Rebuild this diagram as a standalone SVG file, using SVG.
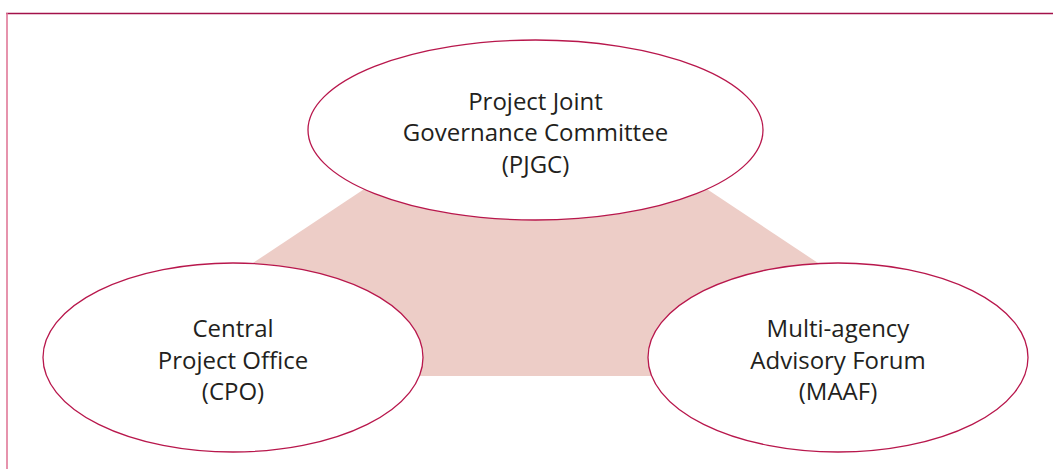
<svg xmlns="http://www.w3.org/2000/svg" width="1053" height="469" viewBox="0 0 1053 469">
<style>
.node ellipse{fill:#ffffff;stroke:#b8174c;stroke-width:1.3}
.lbl{font-family:"Open Sans","Noto Sans","DejaVu Sans",sans-serif;font-size:24px;fill:#231f20;text-anchor:middle}
</style>
<rect width="1053" height="469" fill="#ffffff"/>
<line x1="6" y1="13.5" x2="1053" y2="13.5" stroke="#a3114a" stroke-width="1.6"/>
<line x1="7" y1="13" x2="7" y2="469" stroke="#e07898" stroke-width="1.6"/>
<g id="connectors">
<polygon points="453,130 618,130 988,376 83,376" fill="#edcdc7"/>
</g>
<g id="pjgc" class="node">
<ellipse cx="535.5" cy="130" rx="227.5" ry="90"/>
<text class="lbl" x="535.5" y="109.5">Project Joint</text>
<text class="lbl" x="535.5" y="141">Governance Committee</text>
<text class="lbl" x="535.5" y="172.5">(PJGC)</text>
</g>
<g id="cpo" class="node">
<ellipse cx="233" cy="357.5" rx="190" ry="94.5"/>
<text class="lbl" x="233" y="336.5">Central</text>
<text class="lbl" x="233" y="368.5">Project Office</text>
<text class="lbl" x="233" y="400">(CPO)</text>
</g>
<g id="maaf" class="node">
<ellipse cx="838" cy="357.5" rx="190" ry="94.5"/>
<text class="lbl" x="838" y="336.5">Multi-agency</text>
<text class="lbl" x="838" y="368.5">Advisory Forum</text>
<text class="lbl" x="838" y="400">(MAAF)</text>
</g>
</svg>
